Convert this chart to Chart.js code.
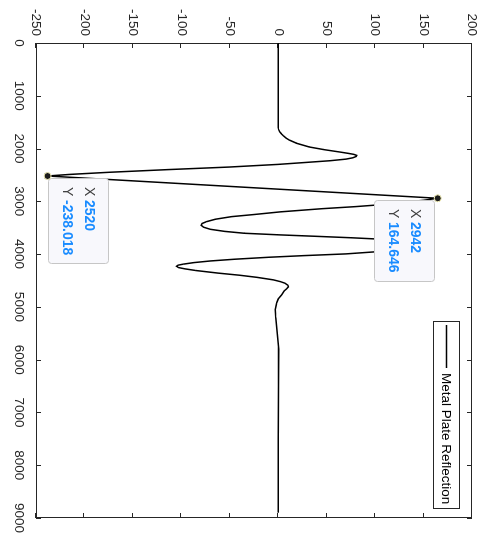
<!DOCTYPE html>
<html><head><meta charset="utf-8">
<script src="https://cdn.jsdelivr.net/npm/chart.js@4.4.0/dist/chart.umd.min.js"></script>
<style>
html,body{margin:0;padding:0;background:#fff;overflow:hidden;width:480px;height:537px;}
#wrap{position:absolute;left:0;top:0;width:537px;height:480px;transform-origin:0 0;transform:translate(480px,0) rotate(90deg);background:#fff;}
canvas{display:block;}
</style></head><body>
<div id="wrap"><canvas id="c" width="537" height="480"></canvas></div>
<script>
// ---- data (sample index vs. amplitude) ----
const samples = [0, 500, 1000, 1500, 1600, 1640, 1680, 1720, 1760, 1800, 1840, 1900, 1970, 2020, 2064, 2090, 2110, 2130, 2150, 2175, 2200, 2230, 2260, 2300, 2350, 2400, 2450, 2490, 2520, 2942, 2980, 3020, 3068, 3100, 3140, 3200, 3250, 3290, 3340, 3385, 3420, 3455, 3490, 3530, 3570, 3605, 3636, 3660, 3690, 3715, 3750, 3790, 3830, 3870, 3910, 3953, 3996, 4030, 4060, 4097, 4130, 4161, 4190, 4210, 4230, 4255, 4280, 4311, 4360, 4400, 4440, 4488, 4520, 4551, 4590, 4620, 4660, 4700, 4773, 4850, 4920, 5050, 5200, 5500, 5800, 6500, 7500, 8900];
const amplitudes = [0, 0, 0, 0, 0, 0.4, 1.5, 3.2, 5.5, 8, 11.5, 19, 32, 47, 63, 72, 78, 81, 80.5, 77, 70, 54, 31, 0, -50, -115, -175, -215, -238.018, 164.646, 150, 128, 103, 80, 45, 2, -25, -48, -65, -74, -78.5, -79.5, -77, -70, -55, -35, 2, 35, 75, 103, 130, 145, 148, 142, 125, 103, 70, 25, -10, -45, -70, -87, -98, -103.5, -105, -103, -96, -85, -62, -40, -22, -5, 2, 7, 10, 10.5, 8.5, 6, 3.5, 0, -1.5, -3, -2.5, -1, 0.5, 0.3, 0.1, 0];
const seriesName = 'Metal Plate Reflection';
const tipSamples = [2520, 2942];
const tipValues = [-238.018, 164.646];
const xTicks = [0, 1000, 2000, 3000, 4000, 5000, 6000, 7000, 8000, 9000];
const yTicks = [-250, -200, -150, -100, -50, 0, 50, 100, 150, 200];

const AX = '#262626';
const FONT = '"Liberation Sans", Arial, Helvetica, sans-serif';

const framePlugin = {
  id: 'frame',
  beforeDatasetsDraw(chart) {
    const ctx = chart.ctx, ca = chart.chartArea;
    const xs = chart.scales.x, ys = chart.scales.y;
    ctx.save();
    ctx.strokeStyle = AX; ctx.lineWidth = 1;
    ctx.strokeRect(ca.left + 0.5, ca.top + 0.5, ca.right - ca.left - 1, ca.bottom - ca.top - 1);
    ctx.beginPath();
    xTicks.forEach(v => {
      const p = Math.round(xs.getPixelForValue(v)) + 0.5;
      ctx.moveTo(p, ca.bottom); ctx.lineTo(p, ca.bottom - 5);
      ctx.moveTo(p, ca.top); ctx.lineTo(p, ca.top + 5);
    });
    yTicks.forEach(v => {
      const p = Math.round(ys.getPixelForValue(v)) + 0.5;
      ctx.moveTo(ca.left, p); ctx.lineTo(ca.left + 5, p);
      ctx.moveTo(ca.right, p); ctx.lineTo(ca.right - 5, p);
    });
    ctx.stroke();
    ctx.restore();
  },
  beforeDatasetDraw(chart, args) {
    if (args.index !== 0) return;
    const ctx = chart.ctx, ca = chart.chartArea;
    const xs = chart.scales.x, ys = chart.scales.y;
    ctx.save();
    tipSamples.forEach((s, i) => {
      const px = xs.getPixelForValue(s), py = ys.getPixelForValue(tipValues[i]);
      const vx = String(s), vy = tipValues[i].toFixed(3);
      ctx.font = 'bold 14px ' + FONT;
      const vw = Math.max(ctx.measureText(vx).width, ctx.measureText(vy).width);
      const w = Math.round(9 + 13 + vw + 8), h = 60;
      const bx = Math.round(px) + 2;
      let by = Math.round(py) - 1 - h;
      if (by < ca.top) by = Math.round(py) + 3;
      ctx.beginPath();
      ctx.roundRect(bx + 0.5, by + 0.5, w, h, 3);
      ctx.fillStyle = '#f8f8fc'; ctx.fill();
      ctx.strokeStyle = '#c6c6c6'; ctx.lineWidth = 1; ctx.stroke();
      ctx.textBaseline = 'middle'; ctx.textAlign = 'left';
      ctx.font = '14px ' + FONT; ctx.fillStyle = '#404040';
      ctx.fillText('X', bx + 9, by + 20);
      ctx.fillText('Y', bx + 9, by + 42);
      ctx.font = 'bold 14px ' + FONT; ctx.fillStyle = '#1a8cff';
      ctx.fillText(vx, bx + 22, by + 20);
      ctx.fillText(vy, bx + 22, by + 42);
    });
    ctx.restore();
  },
  afterDraw(chart) {
    const ctx = chart.ctx, ca = chart.chartArea;
    ctx.save();
    ctx.font = '13.5px ' + FONT;
    const tw = ctx.measureText(seriesName).width;
    const w = Math.round(4 + 43 + 5 + tw + 4), h = 26;
    const bx = ca.right - 10 - w, by = ca.top + 12;
    ctx.fillStyle = '#fff';
    ctx.fillRect(bx, by, w, h);
    ctx.strokeStyle = AX; ctx.lineWidth = 1;
    ctx.strokeRect(bx + 0.5, by + 0.5, w, h);
    const cy = by + h / 2 + 0.5;
    ctx.beginPath(); ctx.strokeStyle = '#000'; ctx.lineWidth = 1.5;
    ctx.moveTo(bx + 4, cy); ctx.lineTo(bx + 47, cy); ctx.stroke();
    ctx.fillStyle = '#000'; ctx.textBaseline = 'middle'; ctx.textAlign = 'left';
    ctx.fillText(seriesName, bx + 52, cy + 0.5);
    ctx.restore();
  }
};

new Chart(document.getElementById('c'), {
  type: 'line',
  data: {
    datasets: [
      {
        label: 'tips',
        data: tipSamples.map((s, i) => ({ x: s, y: tipValues[i] })),
        showLine: false, pointRadius: 3.5, pointHoverRadius: 3.5,
        pointBackgroundColor: '#1c1c1c', pointBorderColor: '#f2eeb8', pointBorderWidth: 1
      },
      {
        label: seriesName,
        data: samples.map((s, i) => ({ x: s, y: amplitudes[i] })),
        borderColor: '#000', borderWidth: 1.5, pointRadius: 0, tension: 0, fill: false
      }
    ]
  },
  options: {
    responsive: false, animation: false, devicePixelRatio: 1,
    layout: { padding: { top: 8, right: 19, left: 0, bottom: 0 } },
    plugins: { legend: { display: false }, tooltip: { enabled: false } },
    scales: {
      x: {
        type: 'linear', min: 0, max: 9000,
        afterBuildTicks: s => { s.ticks = xTicks.map(v => ({ value: v })); },
        afterFit: s => { s.height = 36; s.paddingLeft = 0; s.paddingRight = 0; },
        ticks: { callback: v => String(v), color: AX, font: { family: FONT, size: 13.5 }, padding: 9, maxRotation: 0, autoSkip: false },
        grid: { display: false, drawTicks: false },
        border: { display: false }
      },
      y: {
        type: 'linear', min: -250, max: 200,
        afterBuildTicks: s => { s.ticks = yTicks.map(v => ({ value: v })); },
        afterFit: s => { s.width = 43; s.paddingTop = 0; s.paddingBottom = 0; },
        ticks: { callback: v => String(v), color: AX, font: { family: FONT, size: 13.5 }, padding: 7, autoSkip: false },
        grid: { display: false, drawTicks: false },
        border: { display: false }
      }
    }
  },
  plugins: [framePlugin]
});
</script>
</body></html>
